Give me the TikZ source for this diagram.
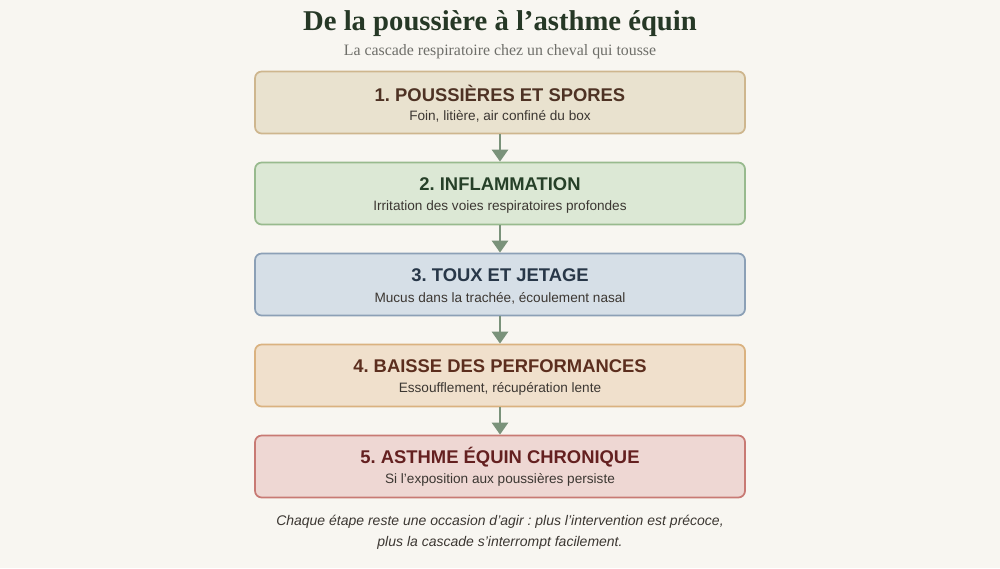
\documentclass[tikz,border=0pt]{standalone}
\usepackage{fontspec}
\setmainfont{Liberation Serif}
\setsansfont{Liberation Sans}
\usetikzlibrary{arrows.meta}
\frenchspacing
\definecolor{bg}{RGB}{248,246,241}
\definecolor{titlec}{RGB}{38,56,38}
\definecolor{subc}{RGB}{110,110,105}
\definecolor{arrc}{RGB}{122,146,122}
\definecolor{fa}{RGB}{233,226,207}\definecolor{da}{RGB}{206,182,142}\definecolor{ta}{RGB}{78,50,36}
\definecolor{fb}{RGB}{220,232,213}\definecolor{db}{RGB}{152,186,142}\definecolor{tb}{RGB}{38,64,40}
\definecolor{fc}{RGB}{214,223,231}\definecolor{dc}{RGB}{140,160,182}\definecolor{tc}{RGB}{40,55,72}
\definecolor{fd}{RGB}{240,224,204}\definecolor{dd}{RGB}{218,178,128}\definecolor{td}{RGB}{92,46,30}
\definecolor{fe}{RGB}{238,215,211}\definecolor{de}{RGB}{200,122,116}\definecolor{te}{RGB}{100,32,32}
\definecolor{bodyc}{RGB}{60,55,50}
\tikzset{
  stepbox/.style={draw, line width=1.3pt, rounded corners=5pt, minimum width=367.5pt, minimum height=46.5pt, inner sep=0pt},
  head/.style={font=\sffamily\bfseries\fontsize{13.8}{16}\selectfont, anchor=center},
  desc/.style={font=\sffamily\fontsize{10.2}{12}\selectfont, text=bodyc, anchor=center},
  flow/.style={draw=arrc, line width=2pt, -{Triangle[length=9pt,width=12pt]}}
}
\begin{document}
\begin{tikzpicture}[x=0.75pt,y=-0.75pt]
\fill[bg] (0,0) rectangle (1000,568);
\useasboundingbox (0,0) rectangle (1000,568);
\node[font=\rmfamily\bfseries\fontsize{21.5}{24}\selectfont, text=titlec] (title) at (500,24) {De la poussière à l’asthme équin};
\node[font=\rmfamily\fontsize{11.9}{14}\selectfont, text=subc] (sub) at (500,51.5) {La cascade respiratoire chez un cheval qui tousse};
\node[stepbox, fill=fa, draw=da] (b1) at (500,102.5) {};
\node[stepbox, fill=fb, draw=db] (b2) at (500,193.5) {};
\node[stepbox, fill=fc, draw=dc] (b3) at (500,284.5) {};
\node[stepbox, fill=fd, draw=dd] (b4) at (500,375.5) {};
\node[stepbox, fill=fe, draw=de] (b5) at (500,466.5) {};
\node[head, text=ta] (h1) at (500,93) {1. POUSSIÈRES ET SPORES};
\node[desc] (d1) at (500,116) {Foin, litière, air confiné du box};
\node[head, text=tb] (h2) at (500,184) {2. INFLAMMATION};
\node[desc] (d2) at (500,207) {Irritation des voies respiratoires profondes};
\node[head, text=tc] (h3) at (500,275) {3. TOUX ET JETAGE};
\node[desc] (d3) at (500,298) {Mucus dans la trachée, écoulement nasal};
\node[head, text=td] (h4) at (500,366) {4. BAISSE DES PERFORMANCES};
\node[desc] (d4) at (500,389) {Essoufflement, récupération lente};
\node[head, text=te] (h5) at (500,457) {5. ASTHME ÉQUIN CHRONIQUE};
\node[desc] (d5) at (500,480) {Si l’exposition aux poussières persiste};
\draw[flow] (b1.south) -- (b2.north);
\draw[flow] (b2.south) -- (b3.north);
\draw[flow] (b3.south) -- (b4.north);
\draw[flow] (b4.south) -- (b5.north);
\node[font=\sffamily\itshape\fontsize{10.5}{16}\selectfont, text=bodyc, align=center] (foot) at (500,532) {Chaque étape reste une occasion d’agir : plus l’intervention est précoce,\\plus la cascade s’interrompt facilement.};
\end{tikzpicture}
\end{document}
